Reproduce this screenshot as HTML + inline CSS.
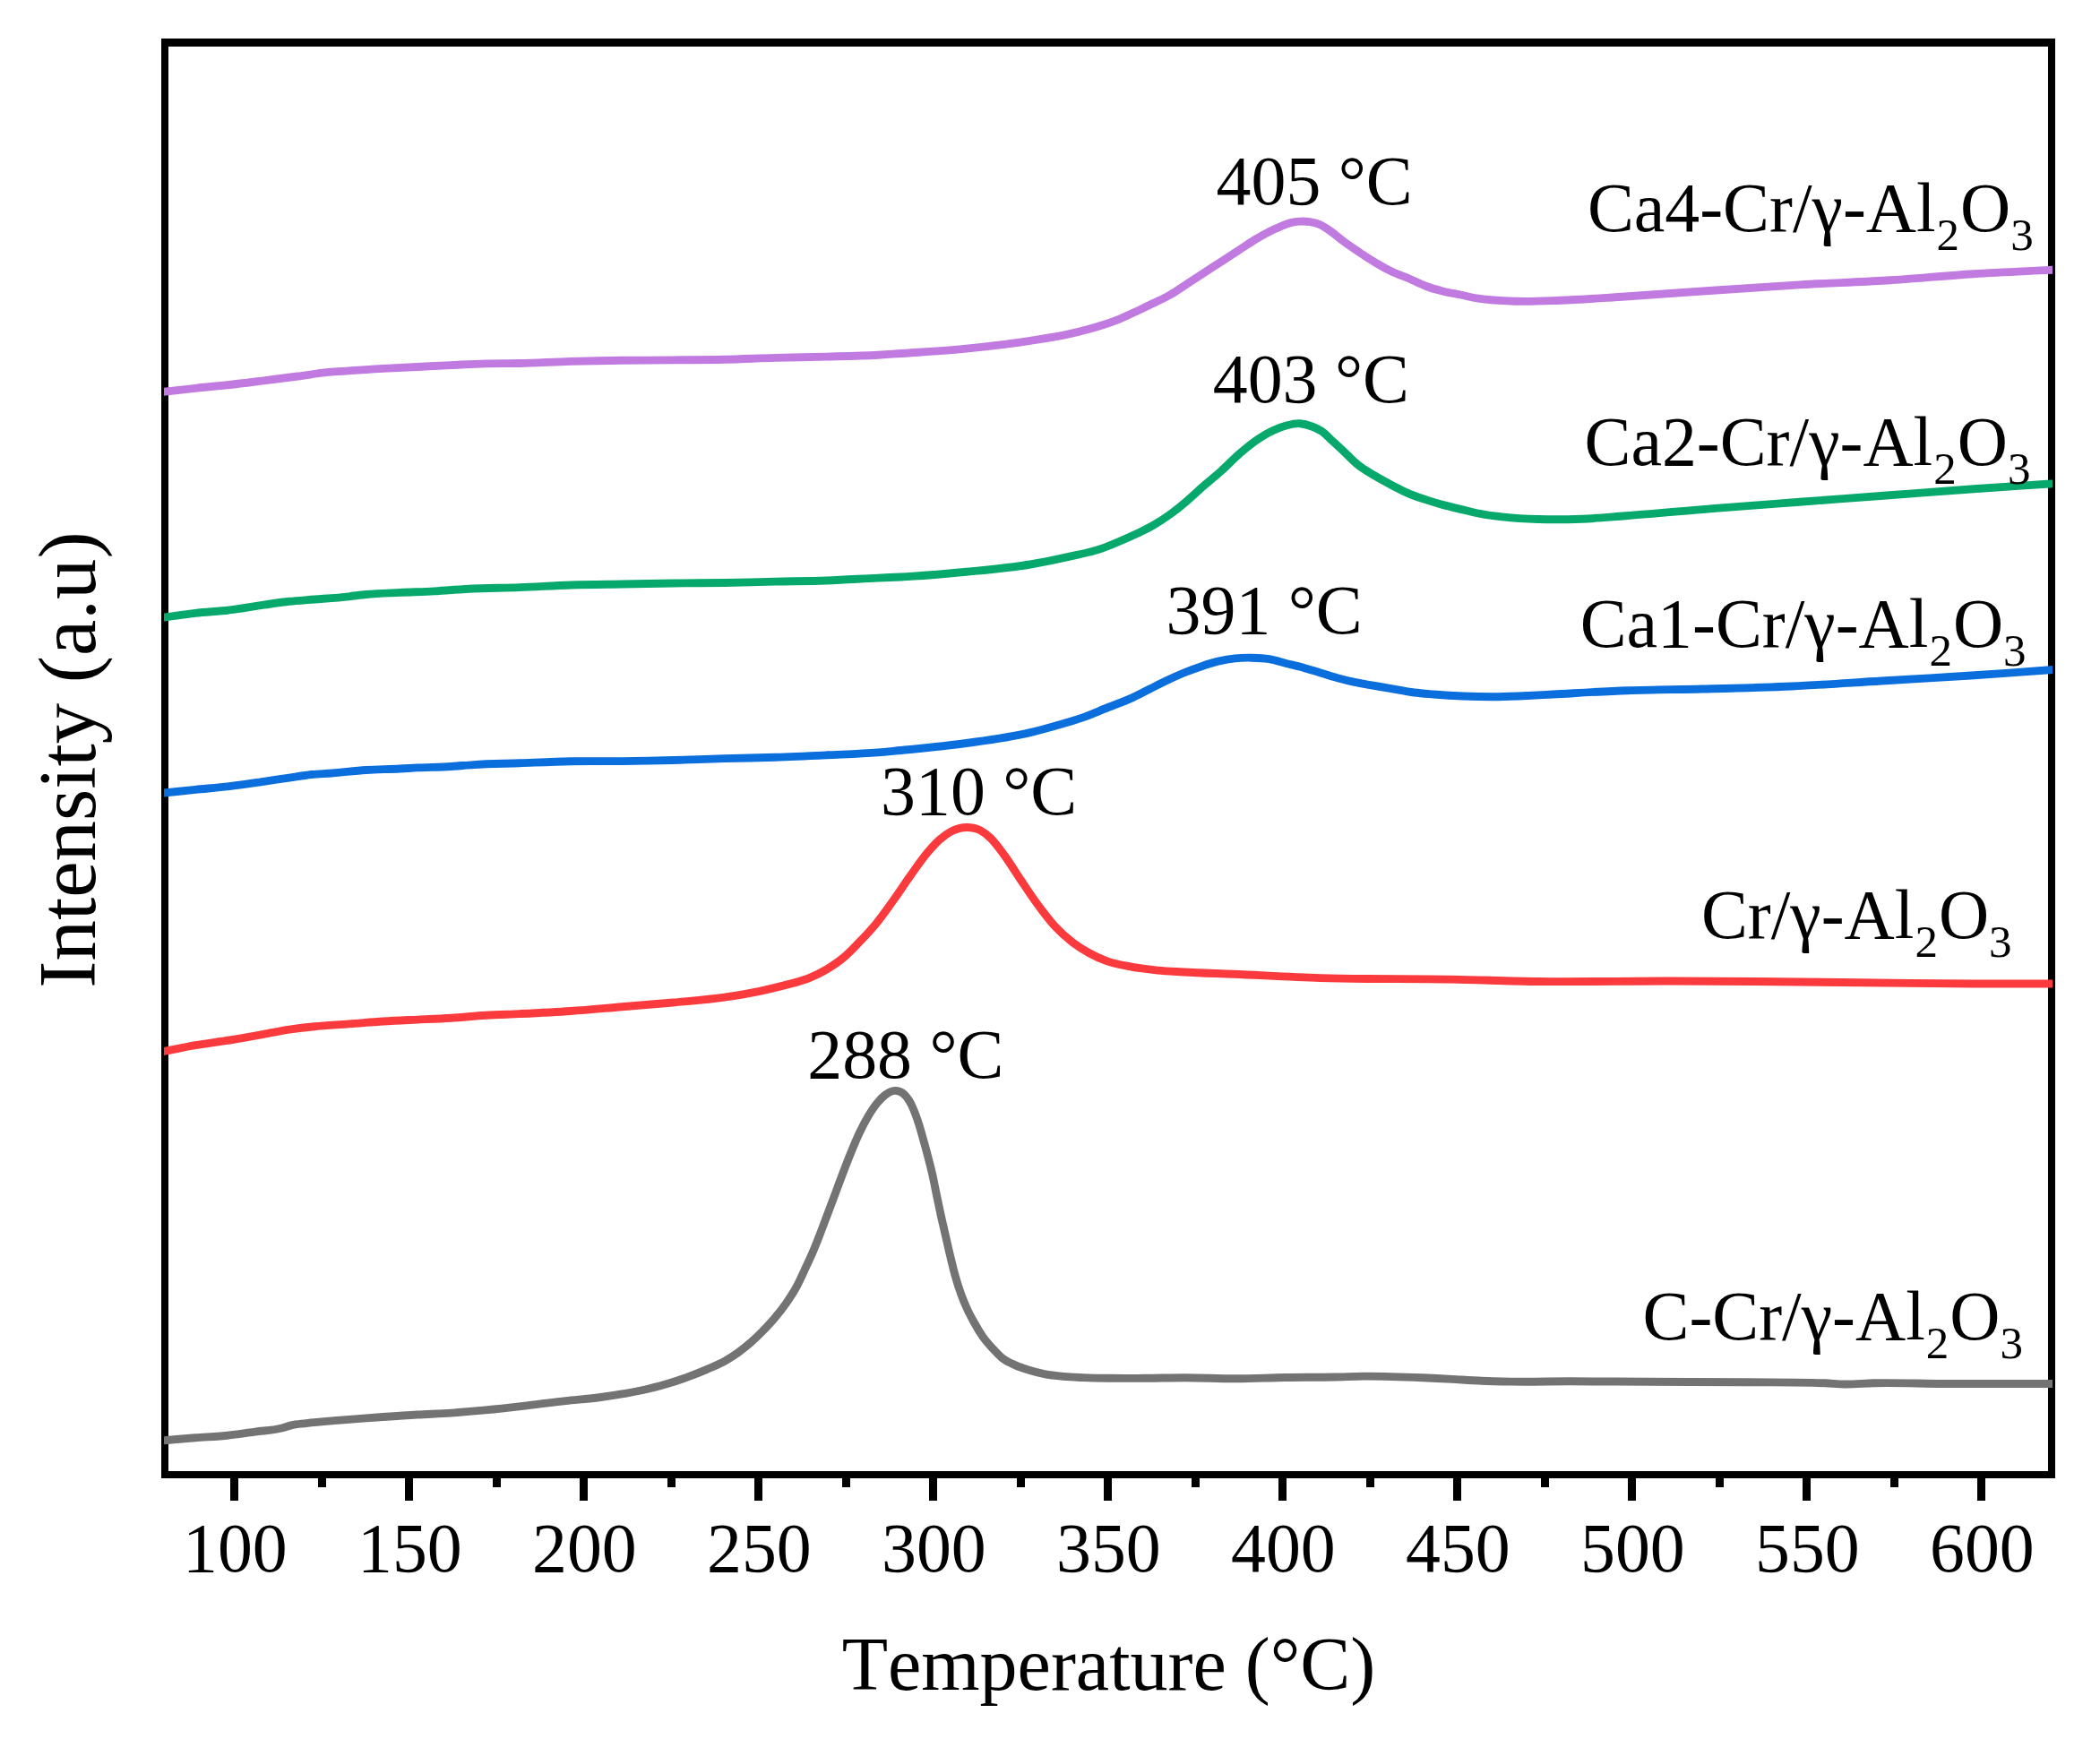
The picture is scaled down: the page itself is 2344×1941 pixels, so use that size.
<!DOCTYPE html>
<html><head><meta charset="utf-8"><title>H2-TPR</title>
<style>html,body{margin:0;padding:0;background:#fff}svg{display:block}text{font-family:"Liberation Serif","Times New Roman",serif;fill:#000;font-kerning:none;font-variant-ligatures:none}</style></head><body>
<svg width="2344" height="1941" viewBox="0 0 2344 1941">
<rect width="2344" height="1941" fill="#fff"/>
<defs><clipPath id="plot"><rect x="183" y="40" width="2108" height="1610"/></clipPath></defs>
<path d="M180 43H2294V1650H180ZM188 52V1642H2286V52Z" fill="#000" fill-rule="evenodd"/>
<path d="M257 1649h9v26h-9zM452 1649h9v26h-9zM647 1649h9v26h-9zM842 1649h9v26h-9zM1037 1649h9v26h-9zM1232 1649h9v26h-9zM1427 1649h9v26h-9zM1622 1649h9v26h-9zM1817 1649h9v26h-9zM2012 1649h9v26h-9zM2207 1649h9v26h-9zM355 1649h9v11h-9zM550 1649h9v11h-9zM745 1649h9v11h-9zM940 1649h9v11h-9zM1135 1649h9v11h-9zM1330 1649h9v11h-9zM1525 1649h9v11h-9zM1720 1649h9v11h-9zM1915 1649h9v11h-9zM2110 1649h9v11h-9z" fill="#000"/>
<g font-size="77.8" text-anchor="middle">
<text x="262.4" y="1754.3">100</text>
<text x="457.4" y="1754.3">150</text>
<text x="652.4" y="1754.3">200</text>
<text x="847.4" y="1754.3">250</text>
<text x="1042.4" y="1754.3">300</text>
<text x="1237.4" y="1754.3">350</text>
<text x="1432.4" y="1754.3">400</text>
<text x="1627.4" y="1754.3">450</text>
<text x="1822.4" y="1754.3">500</text>
<text x="2017.4" y="1754.3">550</text>
<text x="2212.4" y="1754.3">600</text>
</g>
<g clip-path="url(#plot)" fill="none" stroke-width="8.9" stroke-linejoin="round">
<path d="M182.0 1607.8 C194.0 1606.8 206.1 1605.8 218.1 1604.8 C230.8 1603.8 243.5 1603.3 256.2 1601.9 C265.7 1600.9 275.3 1599.4 284.8 1598.1 C294.3 1596.8 303.8 1596.7 313.3 1594.3 C317.2 1593.3 321.1 1591.7 325.0 1590.8 C330.6 1589.5 336.3 1589.3 341.9 1588.6 C354.6 1587.1 367.3 1586.2 380.0 1585.1 C395.9 1583.8 411.7 1582.6 427.6 1581.5 C440.3 1580.6 453.0 1579.7 465.7 1579.0 C478.4 1578.3 491.1 1577.9 503.8 1577.1 C516.5 1576.2 529.2 1575.1 541.9 1573.9 C547.9 1573.3 554.0 1572.7 560.0 1572.1 C571.9 1570.8 583.8 1569.3 595.7 1567.9 C607.6 1566.5 619.5 1564.9 631.4 1563.6 C643.3 1562.3 655.2 1561.5 667.1 1560.0 C676.6 1558.8 686.2 1557.4 695.7 1555.7 C705.2 1554.0 714.8 1552.3 724.3 1550.0 C731.4 1548.3 738.6 1546.5 745.7 1544.3 C752.8 1542.1 760.0 1539.7 767.1 1537.1 C774.3 1534.5 781.4 1531.7 788.6 1528.6 C795.7 1525.5 802.9 1522.7 810.0 1518.6 C814.8 1515.8 819.5 1512.8 824.3 1509.3 C829.1 1505.8 833.8 1502.1 838.6 1497.9 C842.7 1494.2 846.9 1490.2 851.0 1486.0 C855.4 1481.5 859.9 1477.0 864.3 1471.7 C868.7 1466.5 873.2 1460.9 877.6 1454.5 C881.4 1449.0 885.2 1443.5 889.0 1436.4 C892.2 1430.5 895.4 1423.3 898.6 1416.4 C901.8 1409.6 904.9 1403.0 908.1 1395.5 C910.6 1389.5 913.2 1382.9 915.7 1376.4 C918.6 1369.0 921.4 1361.2 924.3 1353.6 C927.2 1346.0 930.0 1338.4 932.9 1330.7 C935.7 1323.1 938.6 1315.3 941.4 1307.9 C944.3 1300.4 947.1 1293.0 950.0 1286.0 C953.2 1278.3 956.3 1270.7 959.5 1264.0 C962.7 1257.3 965.8 1251.4 969.0 1246.0 C972.2 1240.6 975.4 1235.7 978.6 1231.7 C981.8 1227.7 984.9 1224.5 988.1 1222.1 C991.6 1219.5 995.1 1217.5 998.6 1217.4 C1002.1 1217.3 1005.5 1217.9 1009.0 1221.2 C1011.9 1223.9 1014.7 1227.7 1017.6 1233.6 C1019.8 1238.2 1022.1 1244.0 1024.3 1250.7 C1026.2 1256.4 1028.1 1263.1 1030.0 1269.8 C1031.9 1276.5 1033.8 1283.4 1035.7 1290.7 C1037.3 1296.8 1038.9 1302.7 1040.5 1309.8 C1042.1 1316.7 1043.6 1325.1 1045.2 1332.6 C1046.8 1340.3 1048.4 1348.2 1050.0 1355.5 C1051.6 1362.8 1053.2 1369.4 1054.8 1376.4 C1056.7 1384.7 1058.6 1393.3 1060.5 1401.2 C1062.4 1409.1 1064.3 1417.2 1066.2 1424.0 C1068.4 1432.0 1070.7 1438.8 1072.9 1445.0 C1075.1 1451.1 1077.3 1456.2 1079.5 1461.0 C1082.0 1466.5 1084.5 1471.0 1087.0 1475.5 C1090.3 1481.5 1093.7 1487.2 1097.0 1492.0 C1100.8 1497.4 1104.6 1501.4 1108.4 1505.5 C1111.8 1509.2 1115.2 1512.9 1118.6 1515.7 C1123.4 1519.6 1128.1 1521.4 1132.9 1523.6 C1138.1 1526.0 1143.4 1527.7 1148.6 1529.3 C1154.3 1531.1 1160.0 1532.5 1165.7 1533.6 C1172.8 1535.0 1180.0 1535.7 1187.1 1536.4 C1194.3 1537.1 1201.4 1537.3 1208.6 1537.6 C1218.1 1538.0 1227.6 1538.2 1237.1 1538.3 C1251.4 1538.5 1265.7 1538.4 1280.0 1538.3 C1294.3 1538.2 1308.6 1537.8 1322.9 1537.8 C1341.9 1537.8 1361.0 1538.9 1380.0 1538.8 C1398.3 1538.7 1416.5 1537.8 1434.8 1537.5 C1453.0 1537.2 1471.3 1537.4 1489.5 1537.0 C1500.5 1536.8 1511.4 1536.2 1522.4 1536.1 C1544.3 1535.9 1566.2 1536.8 1588.1 1537.7 C1599.1 1538.2 1610.0 1538.8 1621.0 1539.4 C1631.9 1540.0 1642.9 1540.8 1653.8 1541.2 C1664.8 1541.7 1675.7 1541.9 1686.7 1542.1 C1708.6 1542.5 1730.5 1541.8 1752.4 1541.8 C1781.6 1541.8 1810.8 1542.2 1840.0 1542.3 C1876.5 1542.5 1913.0 1542.4 1949.5 1542.7 C1978.7 1543.0 2007.8 1542.5 2037.0 1543.8 C2044.3 1544.1 2051.7 1544.9 2059.0 1545.0 C2070.0 1545.2 2081.0 1544.0 2092.0 1543.8 C2117.5 1543.2 2143.1 1544.4 2168.6 1544.5 C2209.7 1544.7 2250.9 1544.5 2292.0 1544.5" stroke="#737373"/>
<path d="M182.0 1173.6 C194.0 1171.3 206.1 1168.8 218.1 1166.7 C230.8 1164.5 243.5 1163.1 256.2 1161.0 C268.9 1158.9 281.6 1156.6 294.3 1154.3 C303.8 1152.6 313.4 1150.5 322.9 1149.1 C332.4 1147.7 341.9 1146.6 351.4 1145.7 C364.1 1144.4 376.8 1143.9 389.5 1142.9 C402.2 1142.0 414.9 1140.8 427.6 1140.0 C440.3 1139.2 453.0 1138.7 465.7 1138.1 C478.4 1137.5 491.1 1137.0 503.8 1136.2 C516.5 1135.4 529.2 1134.1 541.9 1133.3 C554.6 1132.5 567.3 1132.2 580.0 1131.6 C599.0 1130.7 618.1 1129.8 637.1 1128.5 C656.2 1127.2 675.2 1125.3 694.3 1123.7 C713.3 1122.1 732.4 1120.7 751.4 1119.0 C770.5 1117.2 789.5 1116.0 808.6 1113.2 C821.3 1111.4 834.0 1109.2 846.7 1106.6 C856.2 1104.6 865.7 1102.4 875.2 1099.9 C884.7 1097.3 894.3 1095.3 903.8 1091.3 C910.2 1088.6 916.5 1085.6 922.9 1081.8 C929.2 1078.0 935.6 1073.9 941.9 1068.5 C947.6 1063.7 953.3 1057.6 959.0 1051.7 C965.4 1045.1 971.7 1038.5 978.1 1030.7 C984.4 1022.9 990.8 1013.9 997.1 1005.0 C1003.5 996.1 1009.8 986.3 1016.2 977.4 C1022.5 968.5 1028.9 959.2 1035.2 951.7 C1039.7 946.4 1044.1 941.4 1048.6 937.4 C1053.0 933.5 1057.5 930.2 1061.9 927.9 C1067.6 925.0 1073.3 923.5 1079.0 923.5 C1084.1 923.5 1089.2 924.2 1094.3 926.9 C1098.1 928.9 1101.9 931.8 1105.7 935.5 C1110.8 940.4 1115.9 947.6 1121.0 954.5 C1127.3 963.1 1133.7 973.7 1140.0 983.1 C1146.3 992.5 1152.7 1002.2 1159.0 1010.7 C1165.4 1019.3 1171.7 1027.7 1178.1 1034.5 C1184.4 1041.3 1190.8 1046.8 1197.1 1051.7 C1203.5 1056.6 1209.8 1060.5 1216.2 1064.0 C1222.5 1067.5 1228.9 1070.3 1235.2 1072.6 C1244.7 1076.1 1254.3 1077.5 1263.8 1079.3 C1273.3 1081.0 1282.9 1082.1 1292.4 1083.1 C1301.9 1084.0 1311.5 1084.4 1321.0 1085.0 C1339.7 1086.1 1358.3 1086.5 1377.0 1087.3 C1409.3 1088.7 1441.7 1090.6 1474.0 1091.6 C1522.7 1093.1 1571.3 1092.2 1620.0 1093.1 C1652.3 1093.7 1684.7 1095.1 1717.0 1095.5 C1765.7 1096.2 1814.3 1094.9 1863.0 1095.0 C1927.7 1095.1 1992.3 1095.9 2057.0 1096.5 C2105.7 1096.9 2154.3 1097.8 2203.0 1098.0 C2232.7 1098.1 2262.3 1098.0 2292.0 1098.0" stroke="#fa3a3c"/>
<path d="M182.0 885.1 C194.0 883.9 206.1 882.6 218.1 881.4 C230.8 880.1 243.5 879.1 256.2 877.6 C268.9 876.1 281.6 874.1 294.3 872.3 C303.8 870.9 313.4 869.5 322.9 868.1 C331.1 866.9 339.4 865.4 347.6 864.5 C355.2 863.7 362.9 863.6 370.5 863.0 C383.2 862.0 395.9 860.3 408.6 859.5 C421.3 858.7 434.0 858.7 446.7 858.0 C453.0 857.7 459.4 857.2 465.7 856.9 C478.4 856.3 491.1 856.3 503.8 855.5 C512.1 855.0 520.3 854.1 528.6 853.6 C545.7 852.5 562.9 852.4 580.0 851.8 C599.0 851.1 618.1 850.2 637.1 849.8 C656.2 849.4 675.2 849.8 694.3 849.6 C713.3 849.4 732.4 849.0 751.4 848.5 C770.5 848.0 789.5 847.2 808.6 846.6 C827.6 846.1 846.7 845.8 865.7 845.2 C884.8 844.6 903.8 843.7 922.9 842.8 C941.9 841.9 961.0 841.4 980.0 839.9 C988.6 839.2 997.1 838.3 1005.7 837.5 C1030.0 835.1 1054.3 832.9 1078.6 829.5 C1102.4 826.2 1126.2 823.3 1150.0 817.6 C1159.5 815.3 1169.1 812.7 1178.6 810.0 C1188.1 807.3 1197.6 804.7 1207.1 801.4 C1216.6 798.1 1226.2 793.8 1235.7 790.0 C1245.2 786.2 1254.8 783.0 1264.3 778.6 C1270.6 775.7 1277.0 772.2 1283.3 769.0 C1289.7 765.8 1296.0 762.5 1302.4 759.5 C1308.7 756.5 1315.1 753.6 1321.4 751.0 C1327.8 748.4 1334.1 746.0 1340.5 743.9 C1346.8 741.8 1353.2 739.7 1359.5 738.2 C1365.9 736.7 1372.2 735.5 1378.6 734.8 C1384.9 734.1 1391.3 734.1 1397.6 734.2 C1404.0 734.3 1410.3 734.6 1416.7 735.7 C1423.0 736.8 1429.4 738.9 1435.7 740.5 C1442.1 742.1 1448.4 743.4 1454.8 745.2 C1461.1 746.9 1467.5 749.1 1473.8 751.0 C1480.2 752.9 1486.5 755.0 1492.9 756.7 C1499.2 758.4 1505.6 760.0 1511.9 761.4 C1518.3 762.8 1524.6 763.8 1531.0 764.9 C1537.3 766.0 1543.7 767.0 1550.0 768.1 C1559.5 769.7 1569.1 771.8 1578.6 773.0 C1585.7 773.9 1592.9 774.4 1600.0 775.0 C1611.0 775.9 1622.0 776.6 1633.0 777.0 C1644.2 777.5 1655.5 777.7 1666.7 777.7 C1677.8 777.7 1688.9 777.2 1700.0 776.8 C1711.1 776.3 1722.2 775.6 1733.3 775.0 C1761.1 773.5 1788.9 771.7 1816.7 770.7 C1844.5 769.7 1872.2 769.7 1900.0 769.0 C1933.3 768.2 1966.7 767.5 2000.0 766.0 C2033.3 764.5 2066.7 762.0 2100.0 760.0 C2133.3 758.0 2166.7 756.2 2200.0 754.0 C2230.7 752.0 2261.3 749.7 2292.0 747.5" stroke="#0a6edc"/>
<path d="M182.0 689.2 C194.0 687.6 206.1 685.7 218.1 684.3 C230.8 682.9 243.5 682.4 256.2 680.9 C268.9 679.4 281.6 676.9 294.3 675.1 C303.8 673.8 313.4 672.3 322.9 671.3 C332.4 670.3 341.9 669.8 351.4 669.0 C364.1 668.0 376.8 667.2 389.5 665.8 C395.9 665.1 402.2 664.1 408.6 663.5 C421.3 662.2 434.0 662.0 446.7 661.4 C459.4 660.8 472.1 660.6 484.8 659.9 C497.5 659.2 510.2 657.9 522.9 657.2 C541.9 656.2 561.0 656.3 580.0 655.6 C599.0 654.9 618.1 653.6 637.1 653.0 C656.2 652.4 675.2 652.3 694.3 652.0 C713.3 651.7 732.4 651.2 751.4 651.0 C770.5 650.7 789.5 650.8 808.6 650.5 C827.6 650.2 846.7 649.5 865.7 649.1 C884.8 648.7 903.8 648.7 922.9 648.0 C941.9 647.3 961.0 646.0 980.0 645.1 C988.6 644.7 997.1 644.4 1005.7 644.0 C1030.0 642.7 1054.3 640.7 1078.6 638.3 C1102.4 636.0 1126.2 634.0 1150.0 630.0 C1164.3 627.6 1178.6 624.7 1192.9 621.4 C1205.3 618.6 1217.6 616.4 1230.0 612.1 C1236.3 609.9 1242.7 607.2 1249.0 604.5 C1255.4 601.8 1261.7 599.0 1268.1 596.0 C1274.4 593.0 1280.8 590.1 1287.1 586.4 C1293.5 582.7 1299.8 578.6 1306.2 574.0 C1312.5 569.4 1318.9 564.2 1325.2 558.8 C1331.6 553.4 1337.9 547.3 1344.3 541.7 C1350.6 536.2 1357.0 531.2 1363.3 525.5 C1369.7 519.8 1376.0 513.0 1382.4 507.4 C1388.7 501.9 1395.1 496.5 1401.4 492.1 C1407.8 487.6 1414.1 483.7 1420.5 480.7 C1425.6 478.3 1430.6 476.3 1435.7 475.0 C1440.8 473.7 1445.9 472.4 1451.0 472.7 C1455.4 473.0 1459.9 474.3 1464.3 476.0 C1468.1 477.5 1471.9 479.0 1475.7 481.7 C1479.5 484.4 1483.3 488.6 1487.1 492.1 C1491.6 496.2 1496.0 500.3 1500.5 504.5 C1505.6 509.2 1510.6 514.7 1515.7 518.8 C1522.1 524.0 1528.4 527.4 1534.8 531.2 C1541.1 535.0 1547.5 538.4 1553.8 541.7 C1560.2 545.0 1566.5 548.5 1572.9 551.2 C1579.2 553.9 1585.6 555.8 1591.9 557.9 C1598.3 560.0 1604.6 561.9 1611.0 563.6 C1617.3 565.3 1623.7 566.8 1630.0 568.3 C1636.7 569.9 1643.3 571.7 1650.0 573.0 C1659.5 574.9 1669.1 576.1 1678.6 577.1 C1691.4 578.5 1704.3 579.1 1717.1 579.5 C1733.3 580.0 1749.5 579.8 1765.7 579.2 C1781.9 578.6 1798.1 577.0 1814.3 575.8 C1846.7 573.4 1879.0 570.2 1911.4 567.6 C1943.8 565.0 1976.2 562.7 2008.6 560.3 C2041.0 557.9 2073.3 555.4 2105.7 553.0 C2138.1 550.6 2170.5 548.0 2202.9 545.7 C2232.6 543.6 2262.3 541.8 2292.0 539.8" stroke="#06a96b"/>
<path d="M182.0 437.3 C194.0 436.0 206.1 434.6 218.1 433.3 C230.8 432.0 243.5 430.9 256.2 429.5 C268.9 428.1 281.6 426.4 294.3 424.8 C307.0 423.2 319.7 421.7 332.4 420.0 C343.8 418.5 355.3 416.5 366.7 415.4 C374.3 414.7 381.9 414.4 389.5 413.9 C402.2 413.1 414.9 412.1 427.6 411.4 C440.3 410.7 453.0 410.1 465.7 409.5 C478.4 408.9 491.1 408.2 503.8 407.6 C516.5 407.0 529.2 406.2 541.9 405.9 C554.6 405.5 567.3 405.8 580.0 405.5 C599.0 405.1 618.1 403.9 637.1 403.4 C656.2 402.9 675.2 402.6 694.3 402.3 C713.3 402.1 732.4 402.1 751.4 401.9 C770.5 401.7 789.5 401.7 808.6 401.3 C827.6 400.9 846.7 399.9 865.7 399.4 C884.8 398.9 903.8 398.6 922.9 398.1 C941.9 397.6 961.0 397.3 980.0 396.2 C988.6 395.7 997.1 395.1 1005.7 394.5 C1030.0 392.8 1054.3 391.5 1078.6 389.1 C1102.4 386.7 1126.2 384.0 1150.0 380.3 C1164.3 378.1 1178.6 376.1 1192.9 372.9 C1205.3 370.1 1217.6 367.0 1230.0 363.0 C1236.3 361.0 1242.7 358.8 1249.0 356.3 C1255.4 353.7 1261.7 350.7 1268.1 347.7 C1274.4 344.8 1280.8 341.7 1287.1 338.6 C1293.5 335.5 1299.8 332.7 1306.2 329.0 C1312.5 325.4 1318.9 320.8 1325.2 316.7 C1331.6 312.6 1337.9 308.4 1344.3 304.3 C1350.6 300.2 1357.0 296.0 1363.3 291.9 C1369.7 287.8 1376.0 283.6 1382.4 279.5 C1388.7 275.4 1395.1 270.9 1401.4 267.1 C1407.8 263.3 1414.1 259.8 1420.5 256.7 C1425.6 254.3 1430.6 251.9 1435.7 250.2 C1438.5 249.3 1441.2 248.4 1444.0 247.9 C1446.7 247.4 1449.3 247.2 1452.0 247.1 C1455.3 247.0 1458.7 247.2 1462.0 247.7 C1465.3 248.2 1468.7 248.9 1472.0 250.2 C1475.8 251.7 1479.5 254.2 1483.3 256.7 C1489.0 260.4 1494.8 265.8 1500.5 270.0 C1505.6 273.7 1510.6 277.1 1515.7 280.5 C1522.1 284.8 1528.4 289.1 1534.8 292.9 C1541.1 296.7 1547.5 300.3 1553.8 303.3 C1560.2 306.3 1566.5 308.3 1572.9 311.0 C1579.2 313.7 1585.6 317.1 1591.9 319.5 C1598.3 321.9 1604.6 323.6 1611.0 325.2 C1617.3 326.8 1623.7 327.7 1630.0 329.0 C1636.7 330.4 1643.3 332.1 1650.0 333.2 C1664.3 335.6 1678.6 335.9 1692.9 336.3 C1709.1 336.8 1725.2 335.9 1741.4 335.3 C1765.7 334.4 1790.0 332.5 1814.3 331.0 C1846.7 328.9 1879.0 326.4 1911.4 324.2 C1943.8 322.0 1976.2 319.8 2008.6 317.9 C2041.0 316.0 2073.3 315.0 2105.7 313.0 C2138.1 311.0 2170.5 307.7 2202.9 305.7 C2232.6 303.9 2262.3 302.7 2292.0 301.2" stroke="#c07ae0"/>
</g>
<g font-size="77.8">
<text x="901.3" y="1202.9">288 °C</text>
<text x="983.1" y="908.6">310 °C</text>
<text x="1301.6" y="707.1">391 °C</text>
<text x="1353.8" y="449.1">403 °C</text>
<text x="1357.6" y="227.7">405 °C</text>
</g>
<text x="1833.5" y="1495.2" font-size="77.8">C-Cr/γ-Al<tspan font-size="51" dy="21" dx="1">2</tspan><tspan dy="-21" dx="1">O</tspan><tspan font-size="51" dy="21">3</tspan></text>
<text x="1898.9" y="1046.8" font-size="77.8">Cr/γ-Al<tspan font-size="51" dy="21" dx="1">2</tspan><tspan dy="-21" dx="1">O</tspan><tspan font-size="51" dy="21">3</tspan></text>
<text x="1763.7" y="722.0" font-size="77.8">Ca1-Cr/γ-Al<tspan font-size="51" dy="21" dx="1">2</tspan><tspan dy="-21" dx="1">O</tspan><tspan font-size="51" dy="21">3</tspan></text>
<text x="1768.5" y="518.6" font-size="77.8">Ca2-Cr/γ-Al<tspan font-size="51" dy="21" dx="1">2</tspan><tspan dy="-21" dx="1">O</tspan><tspan font-size="51" dy="21">3</tspan></text>
<text x="1771.9" y="258.1" font-size="77.8">Ca4-Cr/γ-Al<tspan font-size="51" dy="21" dx="1">2</tspan><tspan dy="-21" dx="1">O</tspan><tspan font-size="51" dy="21">3</tspan></text>
<text x="1237.5" y="1886" font-size="84" text-anchor="middle">Temperature (°C)</text>
<text transform="translate(105.7 848) rotate(-90)" font-size="90.8" text-anchor="middle">Intensity (a.u)</text>
</svg></body></html>
